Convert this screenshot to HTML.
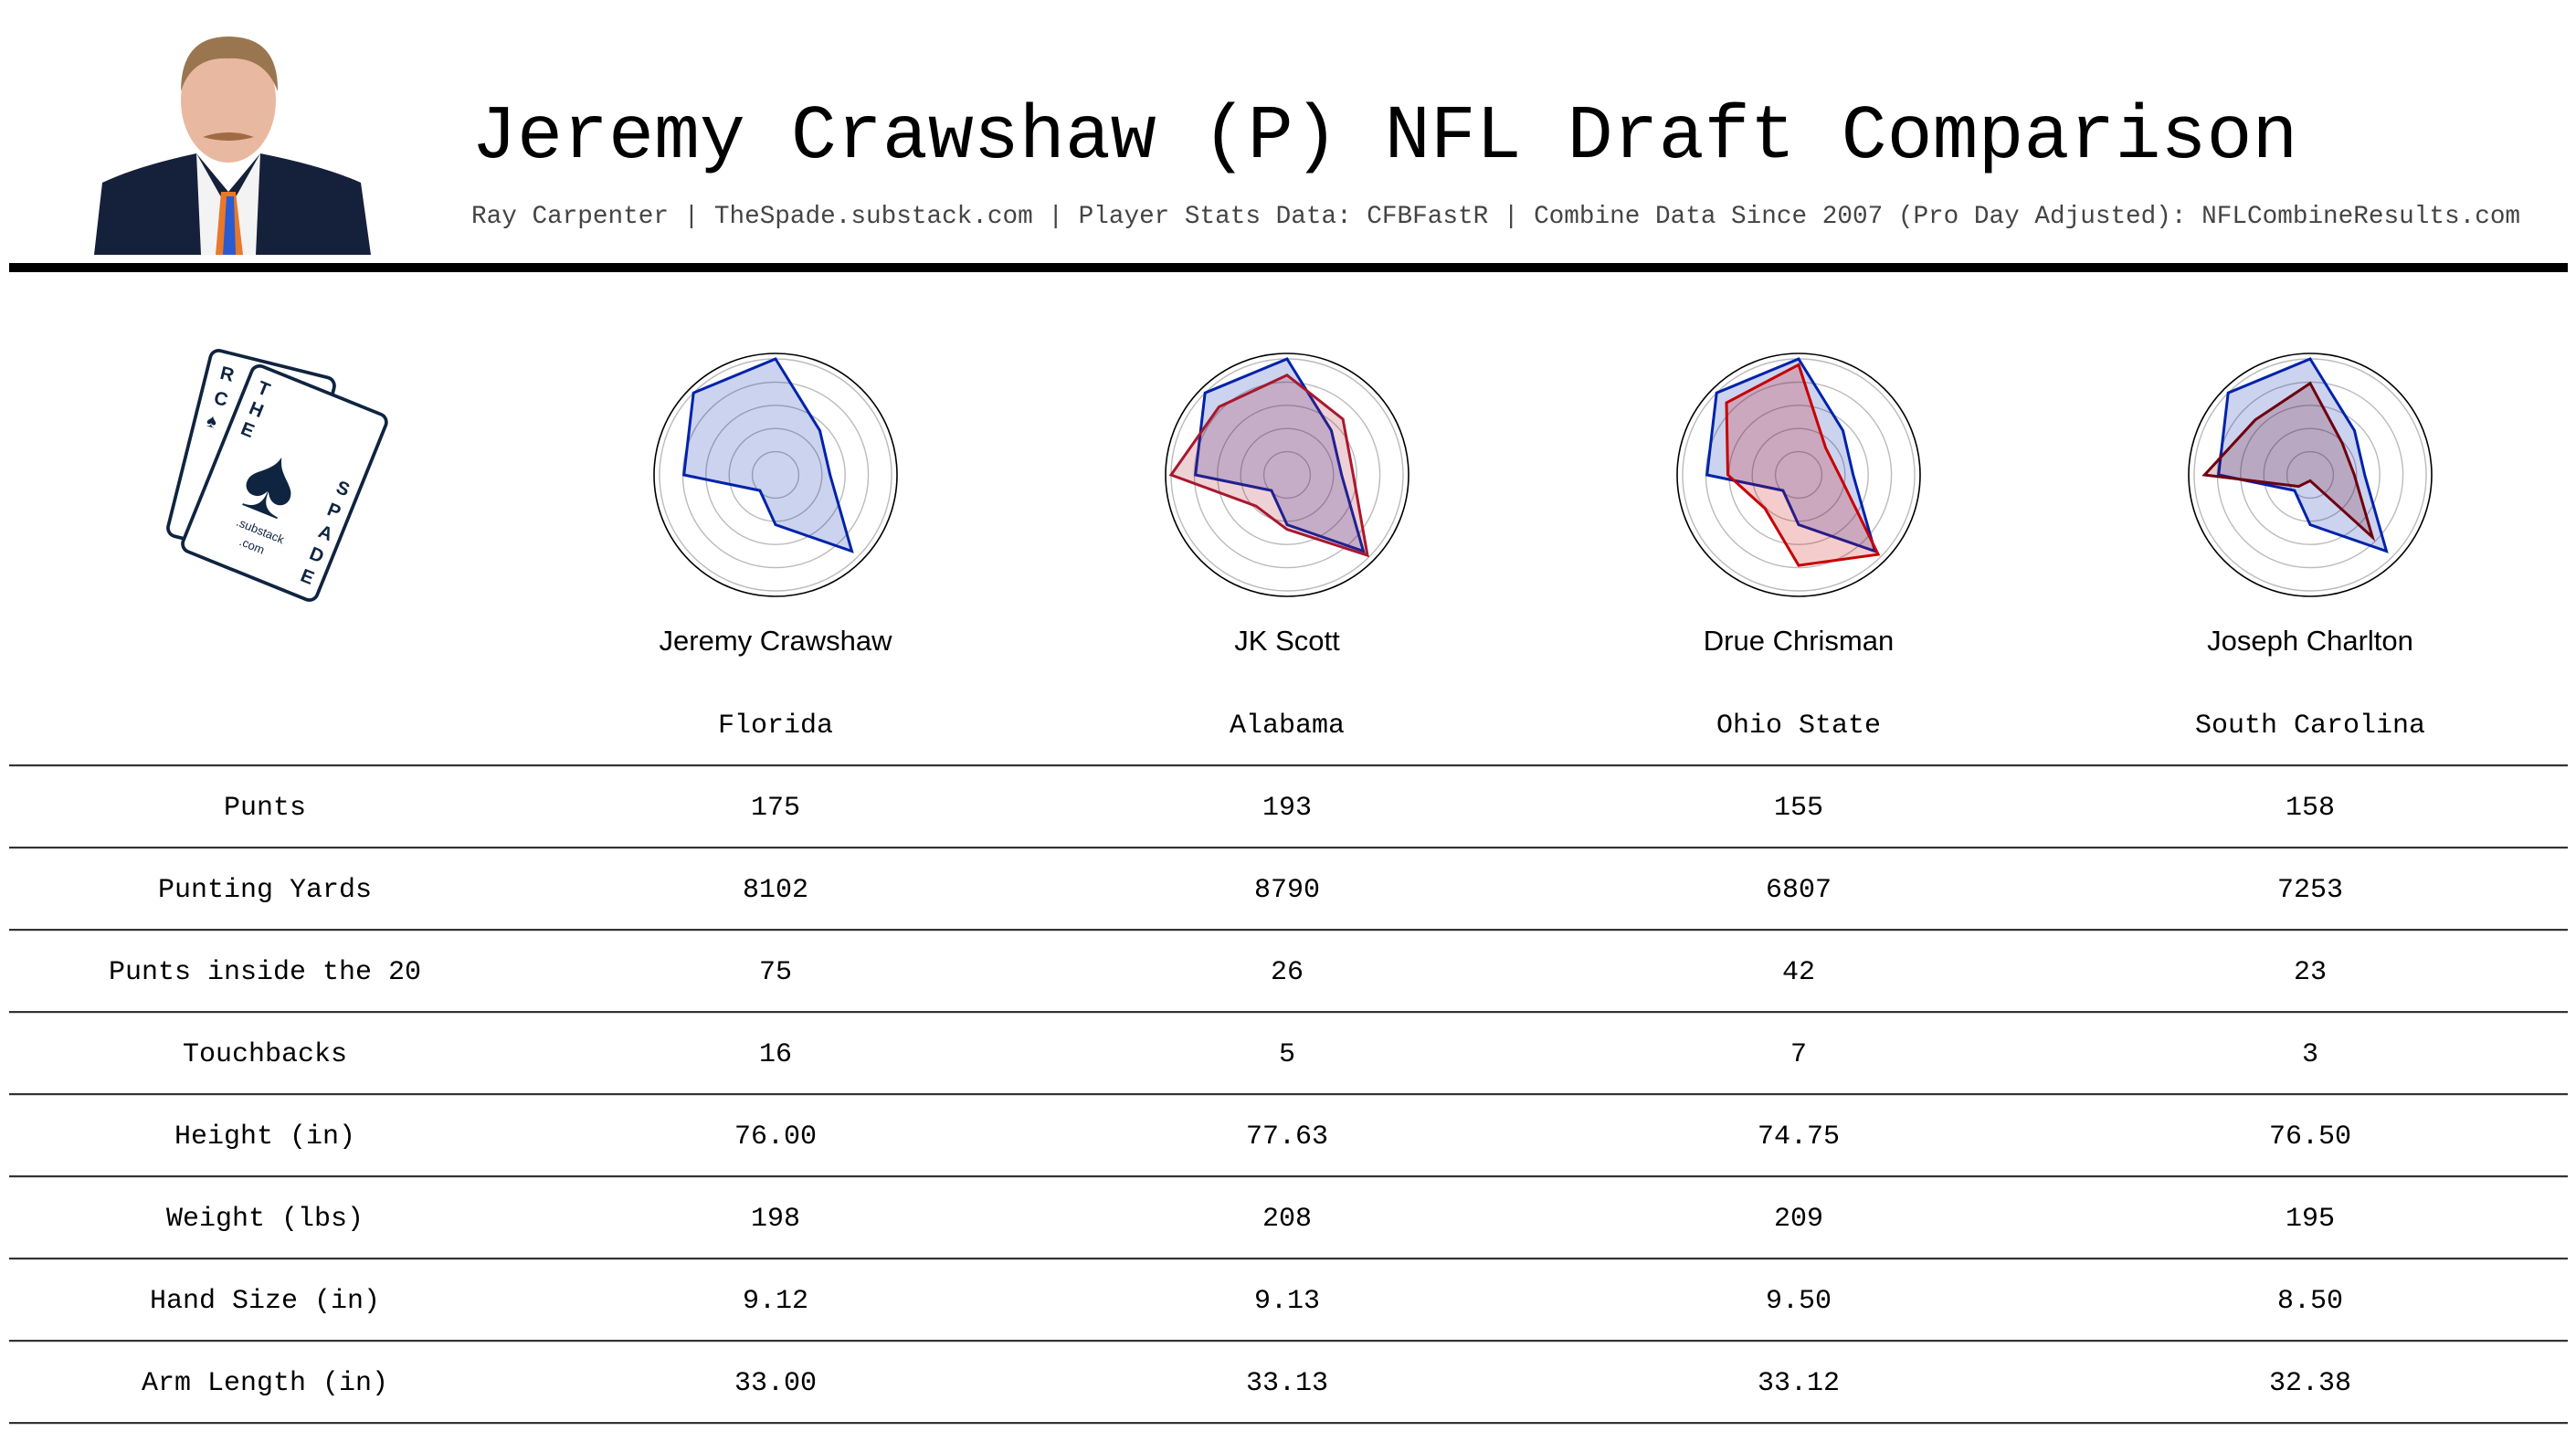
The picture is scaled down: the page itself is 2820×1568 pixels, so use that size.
<!DOCTYPE html>
<html><head><meta charset="utf-8"><style>
html,body{margin:0;padding:0;background:#fff;width:2820px;height:1568px;overflow:hidden}
svg{display:block}
.mono{font-family:"Liberation Mono","DejaVu Sans Mono",monospace}
.sans{font-family:"Liberation Sans","DejaVu Sans",sans-serif}
</style></head><body>
<svg id="chart" width="2820" height="1568" viewBox="0 0 2820 1568" xmlns="http://www.w3.org/2000/svg">
  <g>
    <path d="M103 279 L112 200 Q150 182 215 168 L250 210 L285 168 Q355 182 395 200 L406 279 Z" fill="#15203a"/>
    <path d="M215 168 L250 230 L285 168 L280 279 L220 279 Z" fill="#f3f3f3"/>
    <path d="M242 210 L258 210 L266 279 L236 279 Z" fill="#e8782a"/>
    <path d="M248 215 L256 215 L258 279 L244 279 Z" fill="#2a5bd0"/>
    <ellipse cx="250" cy="110" rx="52" ry="68" fill="#e8b8a0"/>
    <path d="M198 100 Q198 40 250 40 Q305 40 304 100 Q290 62 250 64 Q210 62 198 100 Z" fill="#9a7650"/>
    <path d="M222 150 Q250 140 278 150 Q250 158 222 150 Z" fill="#a06a45"/>
  </g>
  <text x="516" y="172" class="mono" font-size="83.3" fill="#000">Jeremy Crawshaw (P) NFL Draft Comparison</text>
  <text x="516" y="244" class="mono" font-size="27.7" fill="#444">Ray Carpenter | TheSpade.substack.com | Player Stats Data: CFBFastR | Combine Data Since 2007 (Pro Day Adjusted): NFLCombineResults.com</text>
  <rect x="10" y="288" width="2801" height="10" fill="#000"/>

  <g fill="none" stroke="#0f2440" stroke-width="4">
    <g transform="translate(285 510) rotate(14) scale(0.93)">
      <rect x="-88" y="-120" width="150" height="225" rx="10" fill="#fff"/>
      <text x="-72" y="-88" font-size="22" fill="#0f2440" stroke="none" class="sans" font-weight="bold">R</text>
      <text x="-72" y="-58" font-size="22" fill="#0f2440" stroke="none" class="sans" font-weight="bold">C</text>
      <text x="-74" y="-30" font-size="22" fill="#0f2440" stroke="none" class="sans">♠</text>
    </g>
    <g transform="translate(308 525) rotate(22) scale(0.93)">
      <rect x="-80" y="-115" width="170" height="235" rx="10" fill="#fff"/>
      <text x="-66" y="-84" font-size="22" fill="#0f2440" stroke="none" class="sans" font-weight="bold">T</text>
      <text x="-66" y="-58" font-size="22" fill="#0f2440" stroke="none" class="sans" font-weight="bold">H</text>
      <text x="-66" y="-32" font-size="22" fill="#0f2440" stroke="none" class="sans" font-weight="bold">E</text>
      <text x="-40" y="45" font-size="115" fill="#0f2440" stroke="none" class="sans">♠</text>
      <text x="64" y="-10" font-size="22" fill="#0f2440" stroke="none" class="sans" font-weight="bold">S</text>
      <text x="64" y="18" font-size="22" fill="#0f2440" stroke="none" class="sans" font-weight="bold">P</text>
      <text x="64" y="46" font-size="22" fill="#0f2440" stroke="none" class="sans" font-weight="bold">A</text>
      <text x="64" y="74" font-size="22" fill="#0f2440" stroke="none" class="sans" font-weight="bold">D</text>
      <text x="64" y="102" font-size="22" fill="#0f2440" stroke="none" class="sans" font-weight="bold">E</text>
      <text x="-30" y="70" font-size="14" fill="#0f2440" stroke="none" class="sans">.substack</text>
      <text x="-18" y="90" font-size="14" fill="#0f2440" stroke="none" class="sans">.com</text>
    </g>
  </g>
  <g id="radars"></g>
  <g id="table"></g>
</svg>
<script>
const players = ["Jeremy Crawshaw","JK Scott","Drue Chrisman","Joseph Charlton"];
const schools = ["Florida","Alabama","Ohio State","South Carolina"];
const rowLabels = ["Punts","Punting Yards","Punts inside the 20","Touchbacks","Height (in)","Weight (lbs)","Hand Size (in)","Arm Length (in)"];
const colPunts = ["175","193","155","158"];
const colYards = ["8102","8790","6807","7253"];
const colIn20 = ["75","26","42","23"];
const colTouchbacks = ["16","5","7","3"];
const colHeight = ["76.00","77.63","74.75","76.50"];
const colWeight = ["198","208","209","195"];
const colHand = ["9.12","9.13","9.50","8.50"];
const colArm = ["33.00","33.13","33.12","32.38"];
// normalized radar values, axes clockwise from top
const radarCrawshaw = [1.0,0.54,0.47,0.93,0.43,0.19,0.79,1.0];
const radarScott = [0.86,0.68,0.57,0.98,0.47,0.38,1.0,0.83];
const radarChrisman = [0.95,0.33,0.35,0.97,0.78,0.41,0.61,0.88];
const radarCharlton = [0.79,0.39,0.38,0.76,0.05,0.14,0.91,0.67];

const NS="http://www.w3.org/2000/svg";
const colX = i => 849 + i*560;
const rScale = v => v*127;
function mk(tag, attrs, parent){const e=document.createElementNS(NS,tag);for(const k in attrs)e.setAttribute(k,attrs[k]);parent.appendChild(e);return e;}
function pts(vals,cx,cy){return vals.map((v,i)=>{const a=-Math.PI/2+i*Math.PI/4;return (cx+rScale(v)*Math.cos(a)).toFixed(1)+","+(cy+rScale(v)*Math.sin(a)).toFixed(1);}).join(" ");}

const radars=document.getElementById("radars");
const comps=[null,radarScott,radarChrisman,radarCharlton];
const compColors=[null,"#a8182e","#c80000","#6e0010"];
const compFill=[null,"rgba(168,24,46,0.2)","rgba(200,0,0,0.2)","rgba(110,0,16,0.2)"];
for(let i=0;i<4;i++){
  const cx=colX(i), cy=520;
  const g=mk("g",{},radars);
  
  
  const outer=mk("circle",{cx:cx,cy:cy,r:133,fill:"none",stroke:"#000","stroke-width":1.6},g);
  
  
  for(let k=1;k<=5;k++){
    const c=mk("circle",{cx:cx,cy:cy,r:rScale(k*0.2),fill:"none",stroke:"#bbb","stroke-width":1.4},g);
    
    
  }
  const base=mk("polygon",{points:pts(radarCrawshaw,cx,cy),fill:"rgba(0,34,170,0.2)",stroke:"#0022aa","stroke-width":3,"stroke-linejoin":"miter"},g);
  
  
  if(comps[i]){
    const p=mk("polygon",{points:pts(comps[i],cx,cy),fill:compFill[i],stroke:compColors[i],"stroke-width":3},g);
    
    
  }
  const n=mk("text",{x:cx,y:712,"text-anchor":"middle","font-size":31,class:"sans",fill:"#000"},g);
  n.textContent=players[i];
  
  
  const s=mk("text",{x:cx,y:802,"text-anchor":"middle","font-size":30,class:"mono",fill:"#000"},g);
  s.textContent=schools[i];
  
  
}

const table=document.getElementById("table");
const cols=[colPunts,colYards,colIn20,colTouchbacks,colHeight,colWeight,colHand,colArm];
for(let r=0;r<=8;r++){
  const y=838+r*90;
  const l=mk("rect",{x:10,y:y-1,width:2801,height:2.2,fill:"#333"},table);
  
  
}
for(let r=0;r<8;r++){
  const y=838+r*90+54;
  const t=mk("text",{x:290,y:y,"text-anchor":"middle","font-size":30,class:"mono",fill:"#000"},table);
  t.textContent=rowLabels[r];
  
  
  for(let i=0;i<4;i++){
    const v=mk("text",{x:colX(i),y:y,"text-anchor":"middle","font-size":30,class:"mono",fill:"#000"},table);
    v.textContent=cols[r][i];
    
    
  }
}
</script>
</body></html>
